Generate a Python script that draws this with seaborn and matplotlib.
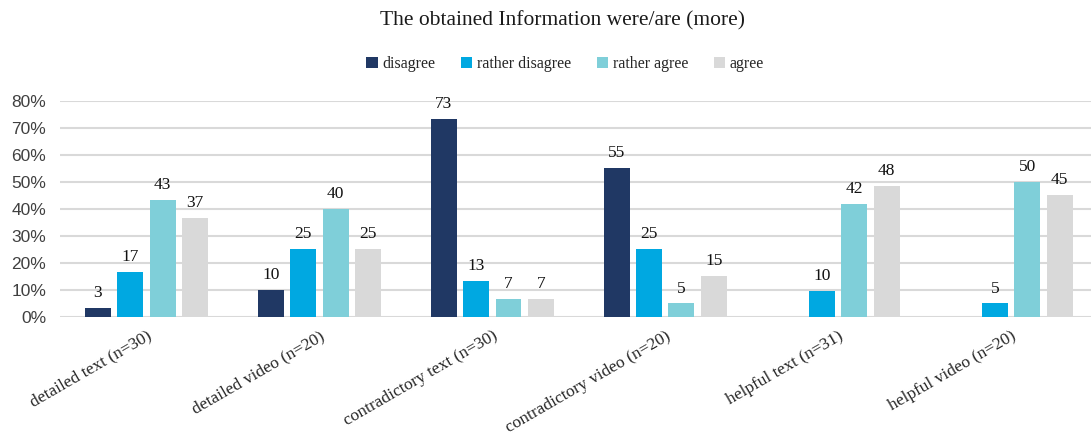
import matplotlib
matplotlib.use("Agg")
import matplotlib.pyplot as plt
import seaborn as sns
import pandas as pd
import numpy as np
from matplotlib.patches import Patch

categories = ["detailed text (n=30)", "detailed video (n=20)", "contradictory text (n=30)",
              "contradictory video (n=20)", "helpful text (n=31)", "helpful video (n=20)"]
levels = ["disagree", "rather disagree", "rather agree", "agree"]
disagree = [3.3, 10.0, 73.3, 55.0, 0.0, 0.0]
rather_disagree = [16.7, 25.0, 13.3, 25.0, 9.7, 5.0]
rather_agree = [43.3, 40.0, 6.7, 5.0, 41.9, 50.0]
agree = [36.7, 25.0, 6.7, 15.0, 48.4, 45.0]
colors = ["#203864", "#00A8E1", "#7FCFD9", "#D9D9D9"]

series = [disagree, rather_disagree, rather_agree, agree]
rows = []
for lvl, vals in zip(levels, series):
    for c, v in zip(categories, vals):
        rows.append({"category": c, "level": lvl, "value": v / 100.0})
df = pd.DataFrame(rows)

sns.set_theme(style="white")
plt.rcParams["font.family"] = ["Liberation Serif", "DejaVu Serif"]

fig = plt.figure(figsize=(10.91, 4.33), dpi=100)
ax = fig.add_axes([0.055, 0.268, 0.951, 0.499])

sns.barplot(data=df, x="category", y="value", hue="level", order=categories,
            hue_order=levels, palette=colors, saturation=1, width=0.75, gap=0.2,
            edgecolor="white", linewidth=0, legend=False, ax=ax)

for cont, vals in zip(ax.containers, series):
    labels = [f"{round(v):d}" if v > 0 else "" for v in vals]
    ax.bar_label(cont, labels=labels, padding=5, fontsize=12.5, color="#111111",
                 family=["Liberation Serif"])

ax.set_ylim(0, 0.8)
ax.set_xlim(-0.5, 5.5)
ax.set_yticks(np.arange(0, 0.81, 0.1))
ax.set_yticklabels([f"{int(round(t*100))}%" for t in np.arange(0, 0.81, 0.1)],
                   family=["Liberation Sans"], fontsize=12.5, color="#404040")
ax.yaxis.grid(True, color="#D9D9D9", linewidth=1.5)
ax.set_axisbelow(True)
for s in ax.spines.values():
    s.set_visible(False)
ax.tick_params(axis="both", length=0)
ax.tick_params(axis="y", pad=10)
ax.set_xlabel("")
ax.set_ylabel("")
ax.set_xticks(range(len(categories)))
ax.set_xticklabels(categories, rotation=30, ha="right", rotation_mode="anchor",
                   fontsize=12.5, color="#262626")
ax.tick_params(axis="x", pad=8)

fig.text(0.516, 0.953, "The obtained Information were/are (more)", ha="center", va="center",
         fontsize=15.5, color="#1a1a1a")
handles = [Patch(facecolor=c, edgecolor="none") for c in colors]
fig.legend(handles, levels, loc="center", bbox_to_anchor=(0.518, 0.852), ncol=4,
           frameon=False, fontsize=11.5, handlelength=0.7, handleheight=0.7,
           handletextpad=0.3, columnspacing=1.6)

fig.savefig("out.png", dpi=100)
